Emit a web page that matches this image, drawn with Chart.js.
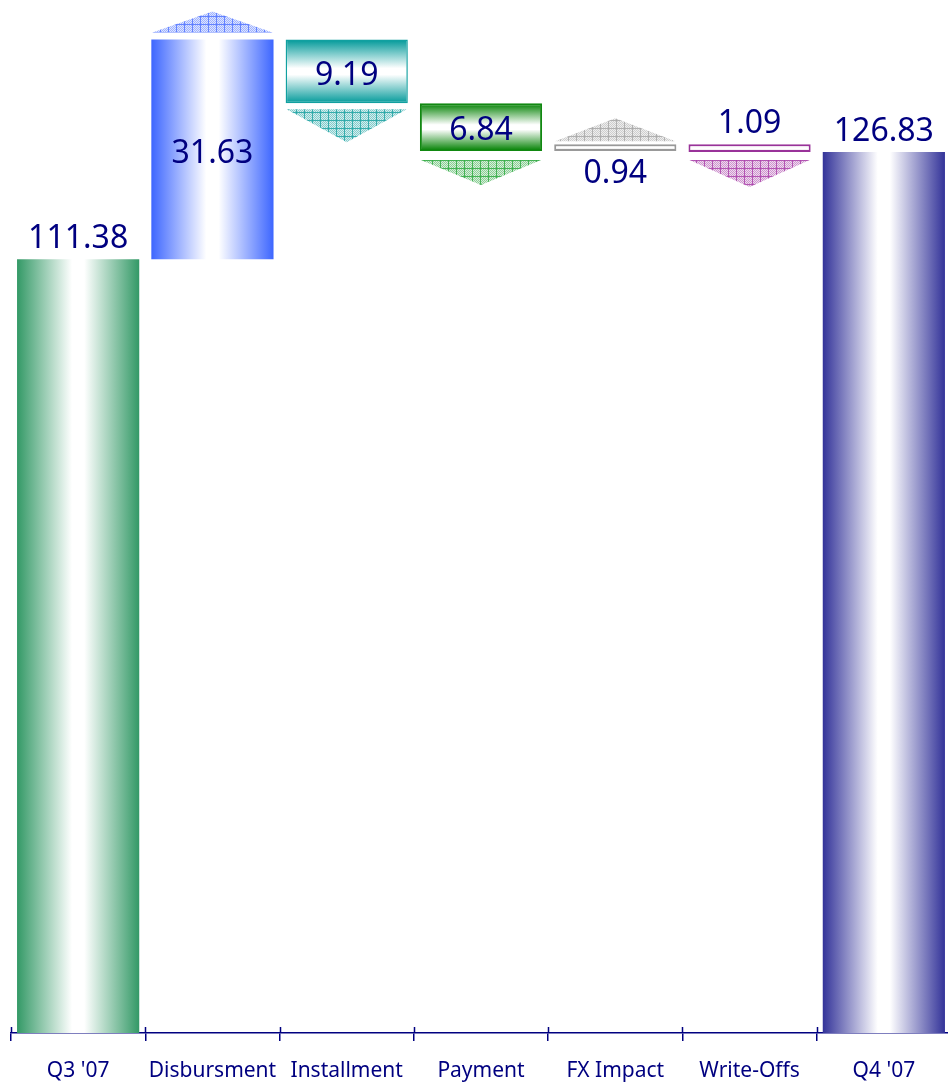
<!DOCTYPE html>
<html>
<head>
<meta charset="utf-8">
<title>Portfolio bridge Q3 '07 - Q4 '07</title>
<script src="https://cdn.jsdelivr.net/npm/chart.js@4.4.1/dist/chart.umd.min.js"></script>
<style>
  html, body { margin: 0; padding: 0; background: #fff; overflow: hidden; }
  #wrap { position: absolute; left: 0; top: 0; width: 952px; height: 1082px; }
</style>
</head>
<body>
<div id="wrap"><canvas id="bridge"></canvas></div>
<script>
// bridge data: opening balance, movements, closing balance
const categories = ["Q3 '07", 'Disbursment', 'Installment', 'Payment', 'FX Impact', 'Write-Offs', "Q4 '07"];
const changes = [111.38, 31.63, -9.19, -6.84, 0.94, -1.09, 126.83];
const isTotal = [true, false, false, false, false, false, true];

// per-bar look
const barColors = ['#339966', '#3d66ff', '#009999', '#008000', '#c8c8c8', '#e0cce0', '#333399'];
const edgeColors = [null, null, '#11a0a0', '#118811', '#999999', '#993399', null];
const edgeWidths = [0, 0, 1.5, 2, 2, 2, 0];
const arrowColors = ['', '#5577ff', '#22a3a3', '#33aa44', '#a8a8a8', '#aa44aa', ''];
const arrowHeights = [0, 21, 33, 25, 23, 27, 0];
const arrowGaps = [0, 7, 6, 9, 3, 8, 0];
const labelPlace = ['above', 'inside', 'inside', 'inside', 'below', 'above', 'above'];
const navy = '#000080';
const barShare = 0.91;

// floating ranges for every bar
let running = 0;
const ranges = changes.map((v, i) => {
  if (isTotal[i]) { running = v; return [0, v]; }
  const start = running;
  running = Math.round((running + v) * 100) / 100;
  return [start, running];
});

function barFill(ctx) {
  const i = ctx.dataIndex;
  const chart = ctx.chart;
  if (i === undefined || !chart.chartArea) return barColors[i] || '#ccc';
  const xs = chart.scales.x, ys = chart.scales.y;
  const col = barColors[i];
  let grad;
  if (isTotal[i] || changes[i] > 5) {
    const c = xs.getPixelForValue(i);
    const half = xs.width / categories.length * barShare / 2;
    grad = chart.ctx.createLinearGradient(c - half, 0, c + half, 0);
  } else {
    const r = ranges[i];
    const top = ys.getPixelForValue(Math.max(r[0], r[1]));
    const bot = ys.getPixelForValue(Math.min(r[0], r[1]));
    grad = chart.ctx.createLinearGradient(0, top, 0, bot);
  }
  grad.addColorStop(0, col);
  grad.addColorStop(0.45, '#ffffff');
  grad.addColorStop(0.55, '#ffffff');
  grad.addColorStop(1, col);
  return grad;
}

// small cross-hatch tile used inside the arrow heads
const hatchCache = {};
function hatch(ctx, color) {
  if (hatchCache[color]) return hatchCache[color];
  const t = document.createElement('canvas');
  t.width = 8; t.height = 8;
  const g = t.getContext('2d');
  g.fillStyle = color;
  g.globalAlpha = 0.45;
  for (let y = 0; y < 8; y++) {
    for (let x = 0; x < 8; x++) {
      if ((x + y) % 2 === 0) g.fillRect(x, y, 1, 1);
    }
  }
  g.globalAlpha = 0.2;
  g.fillRect(0, 0, 8, 8);
  g.globalAlpha = 0.85;
  g.fillRect(0, 0, 8, 1);
  g.fillRect(0, 0, 1, 8);
  hatchCache[color] = ctx.createPattern(t, 'repeat');
  return hatchCache[color];
}

const bridgeDecor = {
  id: 'bridgeDecor',
  afterDatasetsDraw(chart) {
    const ctx = chart.ctx;
    const meta = chart.getDatasetMeta(0);
    ctx.save();
    meta.data.forEach((bar, i) => {
      const top = Math.min(bar.y, bar.base);
      const bottom = Math.max(bar.y, bar.base);
      const half = bar.width / 2 - 1;

      // direction arrow for the movements
      if (!isTotal[i]) {
        const h = arrowHeights[i], gap = arrowGaps[i];
        ctx.beginPath();
        if (changes[i] > 0) {
          ctx.moveTo(bar.x - half, top - gap);
          ctx.lineTo(bar.x + half, top - gap);
          ctx.lineTo(bar.x, top - gap - h);
        } else {
          ctx.moveTo(bar.x - half, bottom + gap);
          ctx.lineTo(bar.x + half, bottom + gap);
          ctx.lineTo(bar.x, bottom + gap + h);
        }
        ctx.closePath();
        ctx.fillStyle = hatch(ctx, arrowColors[i]);
        ctx.fill();
      }

      // value label
      const txt = Math.abs(changes[i]).toFixed(2);
      let ty;
      if (labelPlace[i] === 'above') ty = top - 20;
      else if (labelPlace[i] === 'below') ty = bottom + 23;
      else ty = (top + bottom) / 2 + 4;
      ctx.font = '32px "Noto Sans"';
      ctx.fillStyle = navy;
      ctx.textAlign = 'center';
      ctx.textBaseline = 'middle';
      ctx.fillText(txt, bar.x, ty);
    });
    ctx.restore();
  },
  afterDraw(chart) {
    // short tick stubs poking above the axis line
    const xs = chart.scales.x;
    const step = xs.width / categories.length;
    const ctx = chart.ctx;
    ctx.save();
    ctx.strokeStyle = navy;
    ctx.lineWidth = 1.5;
    ctx.beginPath();
    for (let i = 0; i <= categories.length; i++) {
      const x = Math.round(xs.left + i * step) + 0.5;
      ctx.moveTo(x, xs.top - 6);
      ctx.lineTo(x, xs.top);
    }
    ctx.stroke();
    ctx.restore();
  }
};

new Chart(document.getElementById('bridge'), {
  type: 'bar',
  data: {
    labels: categories,
    datasets: [{
      data: ranges,
      backgroundColor: barFill,
      borderColor: edgeColors.map(c => c || 'rgba(0,0,0,0)'),
      borderWidth: edgeWidths,
      borderSkipped: false,
      barPercentage: barShare,
      categoryPercentage: 1
    }]
  },
  options: {
    responsive: true,
    maintainAspectRatio: false,
    animation: false,
    layout: { padding: { left: 11, right: 1, top: 0, bottom: 0 } },
    plugins: {
      legend: { display: false },
      tooltip: { enabled: false },
      title: { display: false }
    },
    scales: {
      x: {
        offset: true,
        grid: {
          offset: true,
          drawOnChartArea: false,
          tickLength: 8,
          color: navy,
          lineWidth: 1.5
        },
        border: { display: true, color: navy, width: 1.5 },
        ticks: {
          color: navy,
          padding: 17,
          font: { family: '"Noto Sans"', size: 21 },
          maxRotation: 0,
          autoSkip: false
        },
        afterFit(scale) { scale.height = 49; }
      },
      y: {
        display: false,
        min: 0,
        max: 148.7
      }
    }
  },
  plugins: [bridgeDecor]
});
</script>
</body>
</html>
